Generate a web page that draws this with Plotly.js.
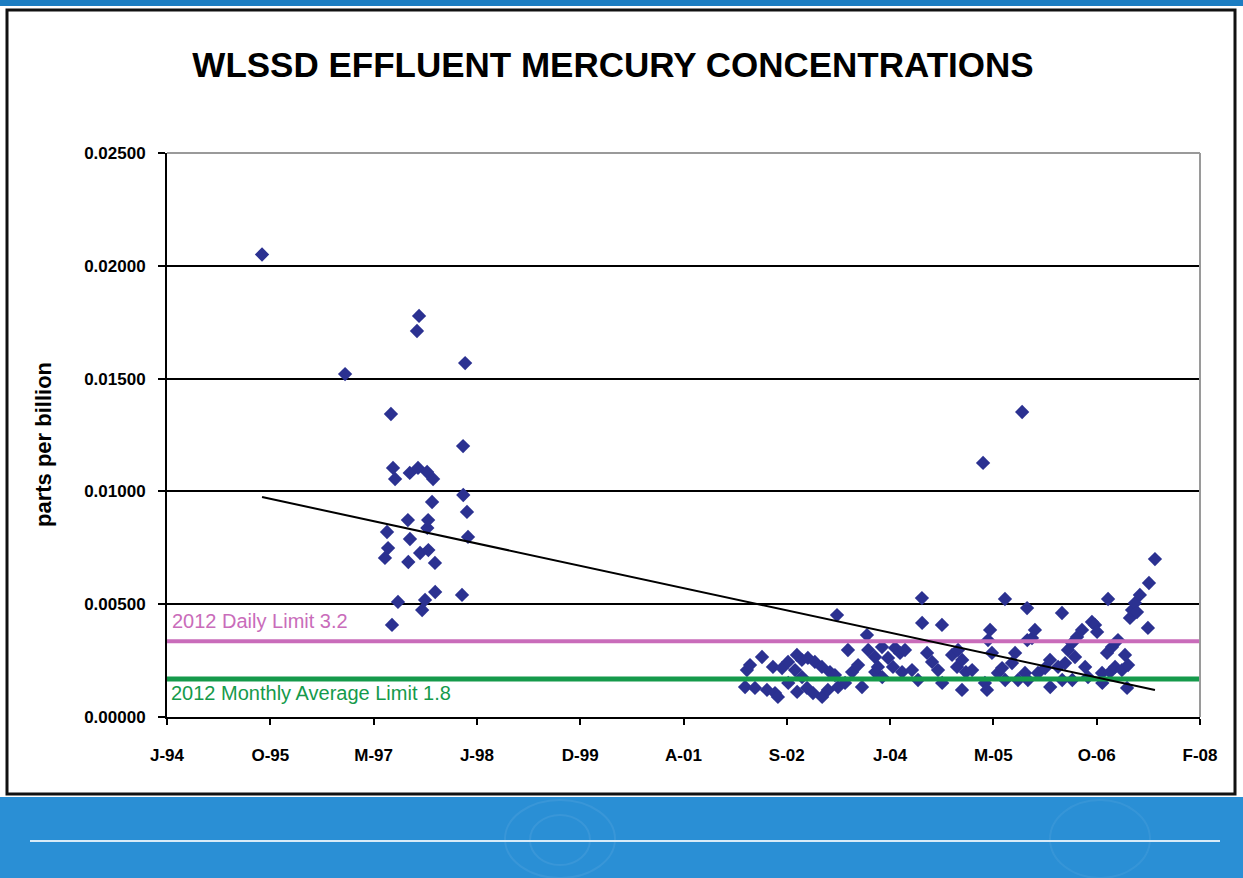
<!DOCTYPE html>
<html>
<head>
<meta charset="utf-8">
<script src="https://cdn.plot.ly/plotly-3.0.1.min.js"></script>
<style>
  html, body { margin: 0; padding: 0; background: #ffffff; overflow: hidden; }
  #chart { width: 1243px; height: 878px; }
</style>
</head>
<body>
<div id="chart"></div>
<script>
// ---------- data ----------
const chartTitle = 'WLSSD EFFLUENT MERCURY CONCENTRATIONS';
const yTitle = 'parts per billion';

const tickDates  = ['1994-06-16','1995-10-29','1997-03-12','1998-07-25','1999-12-07','2001-04-20',
                    '2002-09-02','2004-01-15','2005-05-29','2006-10-11','2008-02-23'];
const tickLabels = ['J-94','O-95','M-97','J-98','D-99','A-01','S-02','J-04','M-05','O-06','F-08'];

const sampleDates = [
  '1995-09-19','1996-10-25','1997-05-06','1997-05-16','1997-05-21','1997-06-04','1997-06-09','1997-06-14',
  '1997-06-24','1997-07-08','1997-08-25','1997-08-27','1997-09-03','1997-09-04','1997-10-08','1997-10-13',
  '1997-10-18','1997-10-23','1997-11-02','1997-11-16','1997-11-26','1997-11-27','1997-12-01','1997-12-02',
  '1997-12-20','1997-12-25','1998-01-03','1998-01-04','1998-05-14','1998-05-19','1998-05-20','1998-05-29',
  '1998-06-07','1998-06-12',
  '2002-02-12','2002-02-21','2002-03-08','2002-04-01','2002-05-05','2002-05-29','2002-06-27','2002-07-07',
  '2002-07-21','2002-08-10','2002-09-08','2002-09-09','2002-10-12','2002-10-21','2002-10-22','2002-11-14',
  '2002-11-15','2002-12-09','2002-12-13','2003-01-07','2003-01-16','2003-02-19','2003-02-20','2003-03-20',
  '2003-03-30','2003-04-23','2003-05-03','2003-05-08','2003-06-11','2003-06-25','2003-07-15','2003-08-13',
  '2003-09-01','2003-09-25','2003-10-01','2003-11-03','2003-11-04','2003-11-17','2003-12-07','2003-12-08',
  '2004-01-05','2004-01-29','2004-02-08','2004-03-03','2004-03-13','2004-03-27','2004-04-30','2004-05-29',
  '2004-06-17','2004-06-18','2004-07-12','2004-08-05','2004-09-03','2004-09-22','2004-09-23','2004-11-10',
  '2004-12-04','2004-12-09','2004-12-28','2004-12-29','2005-01-16','2005-02-15','2005-04-09','2005-04-18',
  '2005-04-28','2005-05-03','2005-05-13','2005-05-22','2005-06-20','2005-07-10','2005-07-24','2005-07-25',
  '2005-08-27','2005-09-11','2005-09-25','2005-10-15','2005-10-29','2005-11-08','2005-11-09','2005-11-12',
  '2005-12-02','2005-12-16','2005-12-31','2006-02-03','2006-02-27','2006-02-28','2006-04-07','2006-04-26',
  '2006-04-27','2006-05-11','2006-05-25','2006-06-14','2006-06-15','2006-06-28','2006-07-08','2006-08-01',
  '2006-08-16','2006-08-30','2006-09-18','2006-10-03','2006-10-13','2006-11-06','2006-11-07','2006-11-30',
  '2006-12-05','2006-12-15','2006-12-24','2007-01-08','2007-01-22','2007-02-10','2007-02-25','2007-03-07',
  '2007-03-12','2007-03-21','2007-03-31','2007-04-14','2007-04-24','2007-05-08','2007-06-16','2007-06-21',
  '2007-07-20'
];
const mercuryPpb = [
  0.0205,0.0152,0.00705,0.0082,0.00749,0.01343,0.00408,0.01104,
  0.01055,0.0051,0.00873,0.00687,0.01082,0.00789,0.01711,0.01104,
  0.01778,0.00727,0.00474,0.00519,0.01086,0.00838,0.00873,0.0074,
  0.00953,0.01055,0.00683,0.00554,0.00541,0.01201,0.00984,0.01569,
  0.00909,0.00798,
  0.00133,0.00208,0.0023,0.00129,0.00266,0.0012,0.00222,0.00106,
  0.00089,0.00217,0.00244,0.00151,0.00208,0.00275,0.00111,0.00253,
  0.00177,0.00129,0.00262,0.00106,0.00244,0.00222,0.00089,0.0012,
  0.00199,0.00186,0.00452,0.00133,0.00151,0.00297,0.00199,0.0023,
  0.00133,0.00363,0.00297,0.00266,0.00199,0.00222,0.0031,0.00177,
  0.00262,0.00222,0.00306,0.00284,0.00199,0.00297,0.00208,0.00164,
  0.00527,0.00417,0.00284,0.00244,0.00208,0.00408,0.00151,0.00275,
  0.00222,0.00297,0.0012,0.00253,0.00199,0.00208,0.01126,0.00151,
  0.0012,0.00341,0.00386,0.00284,0.00195,0.00217,0.00523,0.00164,
  0.00239,0.00284,0.00164,0.01352,0.00195,0.00483,0.00341,0.00164,
  0.0035,0.00386,0.00195,0.00217,0.00253,0.00133,0.00222,0.00461,
  0.00164,0.00239,0.00297,0.00328,0.00164,0.00266,0.00355,0.00386,
  0.00222,0.00177,0.00421,0.00408,0.00377,0.00195,0.00151,0.00284,
  0.00523,0.00199,0.0031,0.00222,0.00341,0.00208,0.00275,0.00129,
  0.0023,0.00439,0.00474,0.00505,0.00465,0.00541,0.00395,0.00594,
  0.0070
];

// linear trend line as drawn in the reference (end points)
const trendDates = ['1995-09-19', '2007-07-20'];
const trendPpb   = [0.00975, 0.0012];

// 2012 permit limits, at the heights where the reference draws them
const dailyLimitLabel   = '2012 Daily Limit 3.2';
const monthlyLimitLabel = '2012 Monthly Average Limit 1.8';
const dailyLimitPpb   = 0.00336;
const monthlyLimitPpb = 0.00168;

// ---------- layout ----------
const W = 1243, H = 878;
const M = { l: 167, r: 43, t: 153, b: 161 };
const PW = W - M.l - M.r, PH = H - M.t - M.b;
const fx = X => (X - M.l) / PW;           // page pixel -> paper x
const fy = Y => (H - M.b - Y) / PH;       // page pixel -> paper y

const SANS = '"Liberation Sans", Arial, "Helvetica Neue", sans-serif';
const xStart = tickDates[0], xEnd = tickDates[tickDates.length - 1];

const traces = [
  {
    x: sampleDates, y: mercuryPpb, type: 'scatter', mode: 'markers',
    marker: { symbol: 'diamond', size: 11, color: '#2b3191', line: { width: 0 } },
    hoverinfo: 'x+y'
  },
  {
    x: [xStart, xEnd], y: [dailyLimitPpb, dailyLimitPpb], type: 'scatter', mode: 'lines',
    line: { color: '#c96cba', width: 4 }, hoverinfo: 'skip'
  },
  {
    x: [xStart, xEnd], y: [monthlyLimitPpb, monthlyLimitPpb], type: 'scatter', mode: 'lines',
    line: { color: '#159a4b', width: 5 }, hoverinfo: 'skip'
  },
  {
    x: trendDates, y: trendPpb, type: 'scatter', mode: 'lines',
    line: { color: '#000000', width: 2 }, hoverinfo: 'skip'
  }
];

const shapes = [
  // top blue strip
  { type: 'rect', xref: 'paper', yref: 'paper', x0: fx(0), x1: fx(W), y0: fy(6), y1: fy(0),
    fillcolor: '#1b7dc2', line: { width: 0 }, layer: 'below' },
  // slide frame
  { type: 'rect', xref: 'paper', yref: 'paper', x0: fx(7), x1: fx(1235), y0: fy(794), y1: fy(10),
    fillcolor: 'rgba(0,0,0,0)', line: { color: '#111111', width: 3 }, layer: 'above' },
  // bottom blue band
  { type: 'rect', xref: 'paper', yref: 'paper', x0: fx(0), x1: fx(W), y0: fy(H), y1: fy(797),
    fillcolor: '#2a8fd5', line: { width: 0 }, layer: 'below' },
  // faint watermark rings
  { type: 'circle', xref: 'paper', yref: 'paper', x0: fx(505), x1: fx(615), y0: fy(878), y1: fy(800),
    line: { color: 'rgba(255,255,255,0.07)', width: 2 }, layer: 'below' },
  { type: 'circle', xref: 'paper', yref: 'paper', x0: fx(530), x1: fx(590), y0: fy(865), y1: fy(815),
    line: { color: 'rgba(255,255,255,0.07)', width: 2 }, layer: 'below' },
  { type: 'circle', xref: 'paper', yref: 'paper', x0: fx(1050), x1: fx(1150), y0: fy(878), y1: fy(800),
    line: { color: 'rgba(255,255,255,0.06)', width: 2 }, layer: 'below' },
  // light rule in the band
  { type: 'line', xref: 'paper', yref: 'paper', x0: fx(30), x1: fx(1220), y0: fy(841), y1: fy(841),
    line: { color: '#d8ebf8', width: 2 }, layer: 'above' },
  // grey plot-area border, top and right
  { type: 'line', xref: 'paper', yref: 'paper', x0: 0, x1: 1, y0: 1, y1: 1,
    line: { color: '#9a9a9a', width: 2 }, layer: 'above' },
  { type: 'line', xref: 'paper', yref: 'paper', x0: 1, x1: 1, y0: 0, y1: 1,
    line: { color: '#9a9a9a', width: 2 }, layer: 'above' }
];

const annotations = [
  { text: yTitle, xref: 'paper', yref: 'paper', x: fx(43), y: fy(445), textangle: -90,
    showarrow: false, xanchor: 'center', yanchor: 'middle',
    font: { family: SANS, size: 22, color: '#000000', weight: 700 } },
  { text: dailyLimitLabel, xref: 'paper', yref: 'paper', x: fx(170), y: fy(621),
    showarrow: false, xanchor: 'left', yanchor: 'middle',
    font: { family: SANS, size: 20, color: '#c96cba' } },
  { text: monthlyLimitLabel, xref: 'paper', yref: 'paper', x: fx(169), y: fy(693),
    showarrow: false, xanchor: 'left', yanchor: 'middle',
    font: { family: SANS, size: 20, color: '#159a4b' } }
];

const layout = {
  width: W, height: H,
  margin: M,
  paper_bgcolor: '#ffffff', plot_bgcolor: '#ffffff',
  showlegend: false,
  title: {
    text: chartTitle, x: 613 / W, xanchor: 'center', y: 1 - 65 / H, yanchor: 'middle',
    font: { family: SANS, size: 35, color: '#000000', weight: 700 }
  },
  xaxis: {
    type: 'date', range: [xStart, xEnd],
    tickmode: 'array', tickvals: tickDates, ticktext: tickLabels,
    ticks: 'outside', ticklen: 6, tickwidth: 2, tickcolor: '#000000',
    showline: true, linecolor: '#000000', linewidth: 2,
    showgrid: false, zeroline: false, ticklabelstandoff: 16,
    tickfont: { family: SANS, size: 17, color: '#000000', weight: 700 }
  },
  yaxis: {
    range: [0, 0.025], dtick: 0.005, tick0: 0, tickformat: '.5f',
    ticks: 'outside', ticklen: 7, tickwidth: 2, tickcolor: '#000000',
    showline: true, linecolor: '#000000', linewidth: 2,
    showgrid: true, gridcolor: '#000000', gridwidth: 2, zeroline: false,
    ticklabelstandoff: 9,
    tickfont: { family: SANS, size: 17, color: '#000000', weight: 700 }
  },
  shapes: shapes,
  annotations: annotations
};

Plotly.newPlot('chart', traces, layout, { displayModeBar: false, staticPlot: true });
</script>
</body>
</html>
